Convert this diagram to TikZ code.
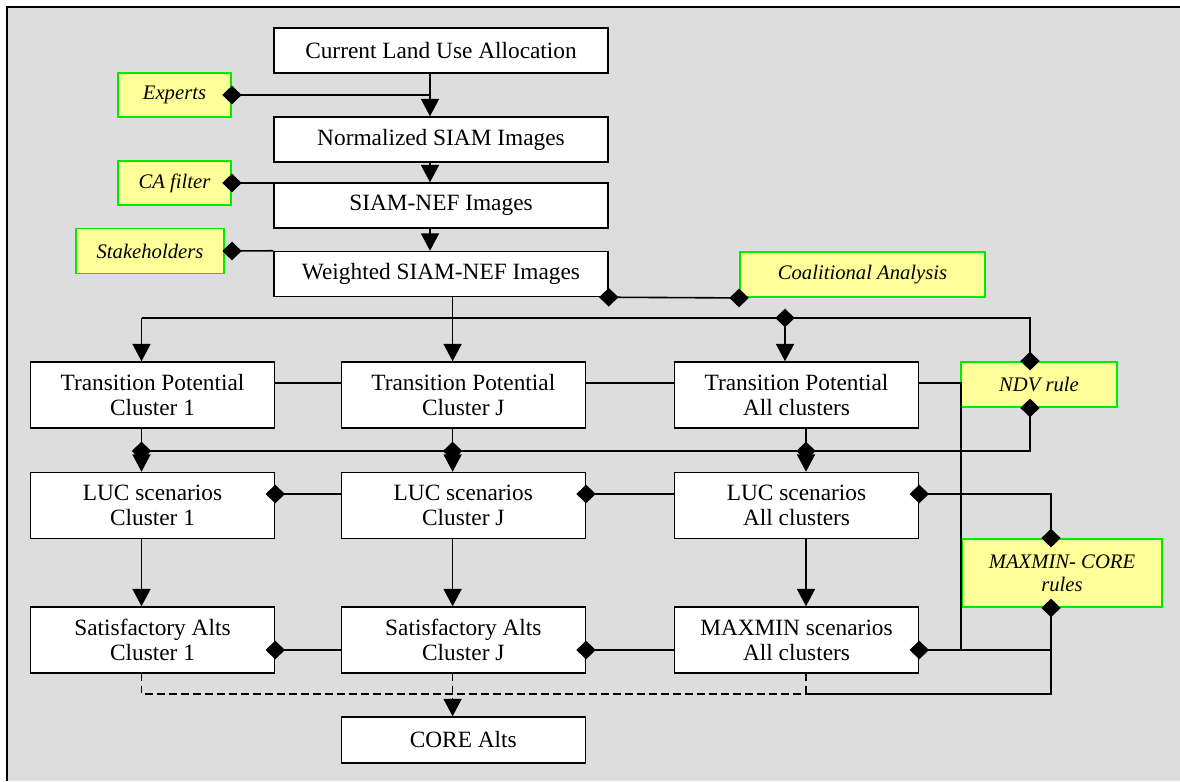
\documentclass[tikz,border=0pt]{standalone}
\usepackage{fontspec}
\setmainfont{Liberation Serif}
\usetikzlibrary{arrows.meta, shapes.geometric}

\definecolor{bggray}{RGB}{221,221,221}
\definecolor{noteyellow}{RGB}{255,255,153}
\definecolor{notegreen}{RGB}{0,235,0}

\tikzset{
  box/.style={draw, fill=white, line width=1.1pt, align=center, inner sep=0pt,
    font=\fontsize{17.5}{18.75}\selectfont},
  topbox/.style={box, minimum width=250.5pt, minimum height=33.75pt},
  cellbox/.style={box, minimum width=183pt, minimum height=49.5pt},
  note/.style={draw=notegreen, fill=noteyellow, line width=1.4pt, align=center, inner sep=0pt,
    font=\itshape\fontsize{15.5}{17.5}\selectfont},
  dia/.style={diamond, fill=black, inner sep=0pt, minimum width=15pt, minimum height=14.5pt}
}

\begin{document}
\begin{tikzpicture}[x=0.75pt, y=-0.75pt, line width=1.2pt,
  >={Triangle[width=13.5pt,length=13pt]}]
\useasboundingbox (0,0) rectangle (1180,781);
\fill[bggray] (7,7) rectangle (1180,781);
\draw[line width=1.5pt] (7,781) -- (7,7) -- (1180,7);

% main column
\node[topbox] (clu) at (441,50.5) {Current Land Use Allocation};
\node[topbox] (norm) at (441,139.5) {Normalized SIAM Images};
\node[topbox] (siam) at (441,205.5) {SIAM-NEF Images};
\node[topbox] (wsiam) at (441,274) {Weighted SIAM-NEF Images};

% inputs
\node[note, minimum width=84.75pt, minimum height=33pt] (experts) at (174.5,95) {Experts};
\node[note, minimum width=84.75pt, minimum height=33pt] (cafilter) at (174.5,183) {CA filter};
\node[note, minimum width=111pt, minimum height=33.75pt] (stake) at (150,251) {Stakeholders};
\node[note, minimum width=183.75pt, minimum height=33.75pt] (coal) at (862.5,274.5) {Coalitional Analysis};
\node[note, minimum width=117pt, minimum height=33.75pt] (ndv) at (1039,384.5) {NDV rule};
\node[note, minimum width=150pt, minimum height=51pt] (mmcore) at (1062,573) {MAXMIN- CORE\\rules};

% clusters
\node[cellbox] (tpone) at (152.5,395) {Transition Potential\\Cluster 1};
\node[cellbox] (tpj) at (463.3,395) {Transition Potential\\Cluster J};
\node[cellbox] (tpall) at (796.5,395) {Transition Potential\\All clusters};
\node[cellbox] (lucone) at (152.5,505.5) {LUC scenarios\\Cluster 1};
\node[cellbox] (lucj) at (463.3,505.5) {LUC scenarios\\Cluster J};
\node[cellbox] (lucall) at (796.5,505.5) {LUC scenarios\\All clusters};
\node[cellbox] (satone) at (152.5,640) {Satisfactory Alts\\Cluster 1};
\node[cellbox] (satj) at (463.3,640) {Satisfactory Alts\\Cluster J};
\node[cellbox] (maxmin) at (796.5,640) {MAXMIN scenarios\\All clusters};
\node[cellbox, minimum height=34.5pt] (core) at (463.3,740) {CORE Alts};

% columns and levels of the wiring
\coordinate (spine) at (430,0);
\coordinate (cone) at (141.5,0);
\coordinate (cj) at (452.6,0);
\coordinate (ctop) at (785,0);
\coordinate (call) at (806,0);
\coordinate (cside) at (961,0);
\coordinate (cndv) at (1030,0);
\coordinate (cmm) at (1051,0);
\coordinate (busa) at (0,318);
\coordinate (busb) at (0,451);
\coordinate (busc) at (0,694);
\coordinate (rowa) at (0,383);
\coordinate (rowb) at (0,494);
\coordinate (rowc) at (0,650);

% top chain
\draw[->] (clu.south -| spine) -- (norm.north -| spine);
\draw (experts.east) node[dia] (dexp) {} -- (experts.east -| spine);
\draw[->] (norm.south -| spine) -- (siam.north -| spine);
\draw (cafilter.east) node[dia] (dca) {} -- ++(65,0);
\draw[->] (siam.south -| spine) -- (wsiam.north -| spine);
\draw ([xshift=5.25pt]stake.east) node[dia] (dst) {} -- (wsiam.north west);
\draw (wsiam.south east) node[dia] (dws) {} -- (coal.south west) node[dia] (dcoal) {};

% upper bus
\draw[->] (wsiam.south -| cj) -- (tpj.north -| cj);
\draw (cone |- busa) -- (cndv |- busa) -- (cndv |- ndv.north) node[dia] (dndva) {};
\draw[->] (cone |- busa) -- (tpone.north -| cone);
\draw[->] (ctop |- busa) node[dia] (dbus) {} -- (tpall.north -| ctop);

% transition row
\draw (tpone.east |- rowa) -- (tpj.west |- rowa);
\draw (tpj.east |- rowa) -- (tpall.west |- rowa);
\draw (tpall.east |- rowa) -- (cside |- rowa) -- (cside |- rowc);

% lower bus
\draw (cndv |- ndv.south) node[dia] (dndvb) {} -- (cndv |- busb) -- (cone |- busb);
\draw[->] (tpone.south -| cone) -- (cone |- busb) node[dia] (dbone) {} -- (lucone.north -| cone);
\draw[->] (tpj.south -| cj) -- (cj |- busb) node[dia] (dbj) {} -- (lucj.north -| cj);
\draw[->] (tpall.south -| call) -- (call |- busb) node[dia] (dball) {} -- (lucall.north -| call);

% scenario row
\draw (lucone.east |- rowb) node[dia] (dlone) {} -- (lucj.west |- rowb);
\draw (lucj.east |- rowb) node[dia] (dlj) {} -- (lucall.west |- rowb);
\draw (lucall.east |- rowb) node[dia] (dlall) {} -- (cmm |- rowb) -- (cmm |- mmcore.north) node[dia] (dmma) {};
\draw[->] (lucone.south -| cone) -- (satone.north -| cone);
\draw[->] (lucj.south -| cj) -- (satj.north -| cj);
\draw[->] (lucall.south -| call) -- (maxmin.north -| call);

% alternatives row
\draw (satone.east |- rowc) node[dia] (dsone) {} -- (satj.west |- rowc);
\draw (satj.east |- rowc) node[dia] (dsj) {} -- (maxmin.west |- rowc);
\draw (maxmin.east |- rowc) node[dia] (dmax) {} -- (cmm |- rowc);
\draw (cmm |- mmcore.south) node[dia] (dmmb) {} -- (cmm |- busc) -- (call |- busc);

% collection into the core
\draw[dash pattern=on 5.5pt off 3.5pt] (satone.south -| cone) -- (cone |- busc) -- (call |- busc);
\draw[dash pattern=on 5.5pt off 3.5pt] (maxmin.south -| call) -- (call |- busc);
\draw[dash pattern=on 5.5pt off 3.5pt, ->] (satj.south -| cj) -- (core.north -| cj);
\end{tikzpicture}
\end{document}
